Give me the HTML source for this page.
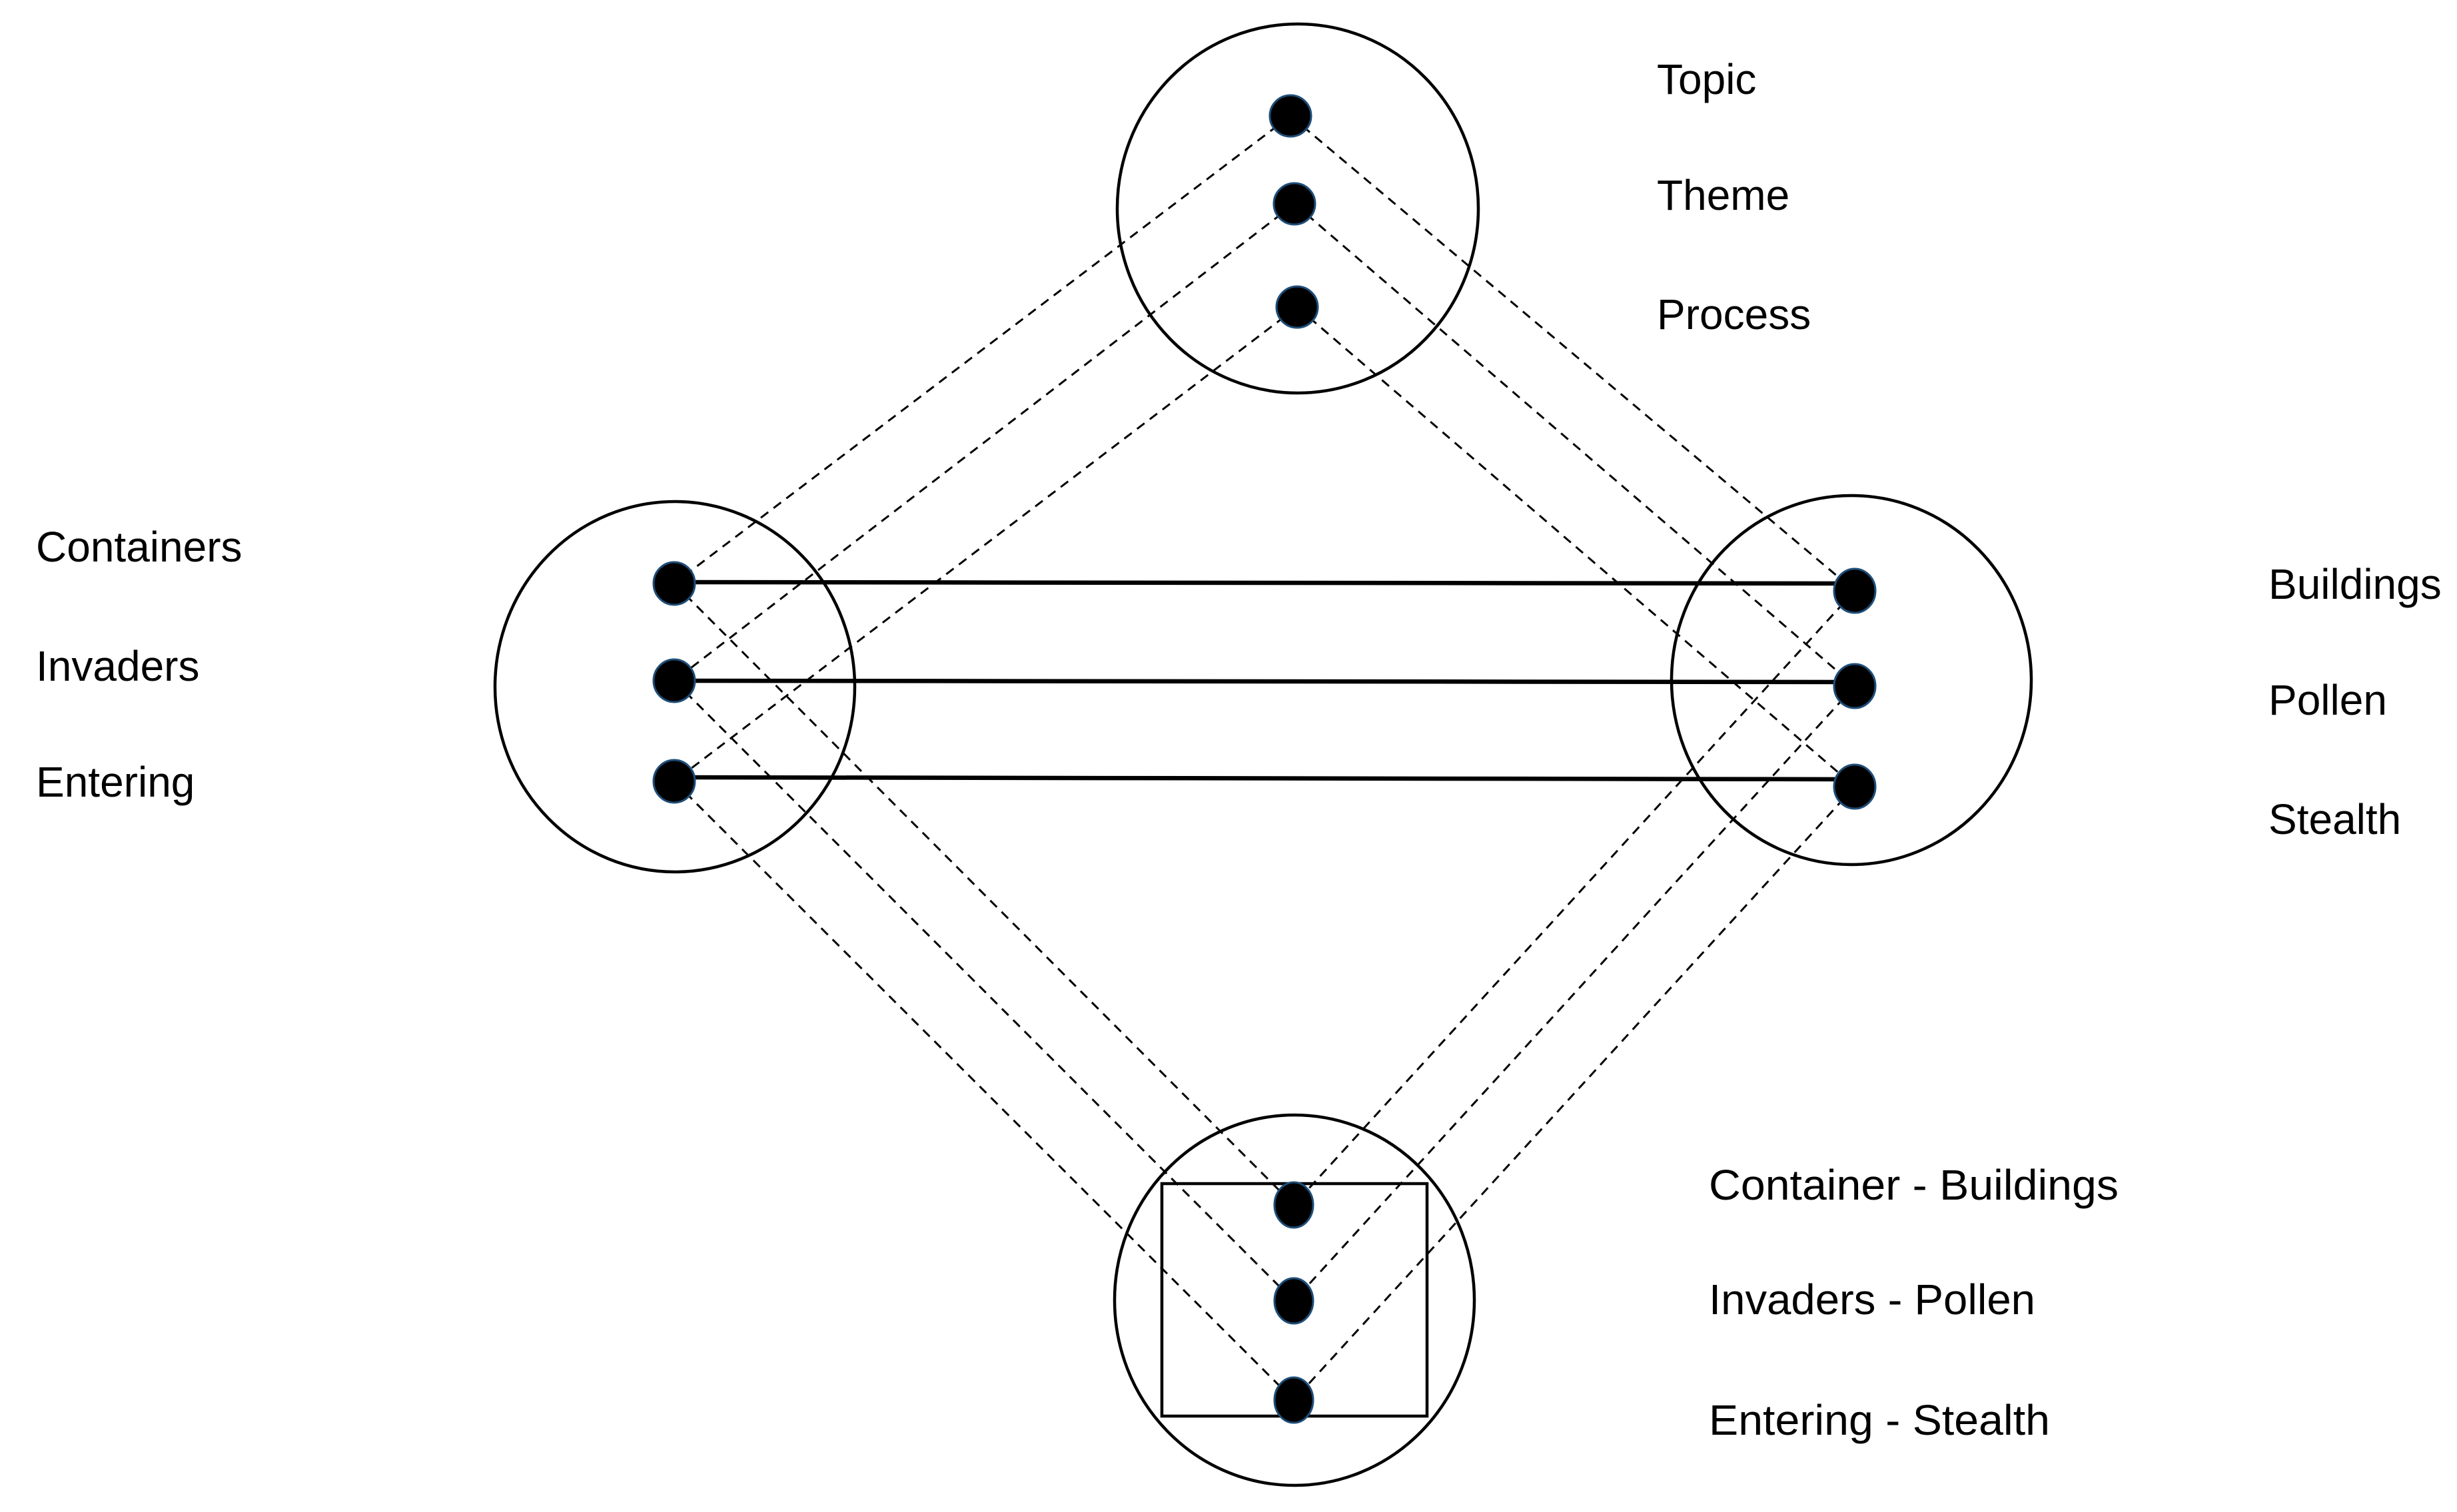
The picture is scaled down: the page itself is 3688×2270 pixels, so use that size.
<!DOCTYPE html>
<html><head><meta charset="utf-8"><style>
html,body{margin:0;padding:0;background:#fff;}
svg{display:block;}
text{font-family:"Liberation Sans",sans-serif;font-size:64px;fill:#000;}
</style></head><body>
<svg width="3688" height="2270" viewBox="0 0 3688 2270" xmlns="http://www.w3.org/2000/svg">
<g stroke="#000" stroke-width="3" stroke-dasharray="14 10" fill="none">
<line x1="1937" y1="174" x2="1012" y2="876"/>
<line x1="1943" y1="306" x2="1012" y2="1022"/>
<line x1="1947" y1="461" x2="1012" y2="1173"/>
<line x1="1937" y1="174" x2="2784" y2="887"/>
<line x1="1943" y1="306" x2="2784" y2="1030"/>
<line x1="1947" y1="461" x2="2784" y2="1181"/>
<line x1="1012" y1="876" x2="1942" y2="1809"/>
<line x1="1012" y1="1022" x2="1942" y2="1953"/>
<line x1="1012" y1="1173" x2="1942" y2="2102"/>
<line x1="2784" y1="887" x2="1942" y2="1809"/>
<line x1="2784" y1="1030" x2="1942" y2="1953"/>
<line x1="2784" y1="1181" x2="1942" y2="2102"/>
</g>
<g stroke="#000" stroke-width="4.5" fill="none">
<ellipse cx="1948" cy="313" rx="271" ry="277"/>
<ellipse cx="1013" cy="1031" rx="270" ry="278"/>
<ellipse cx="2779" cy="1021" rx="270" ry="277"/>
<ellipse cx="1943" cy="1952" rx="270" ry="278"/>
<rect x="1744" y="1777" width="398" height="349"/>
</g>
<g stroke="#000" stroke-width="6.5">
<line x1="1012" y1="874" x2="2784" y2="876"/>
<line x1="1012" y1="1022" x2="2784" y2="1024"/>
<line x1="1012" y1="1167" x2="2784" y2="1170"/>
</g>
<g fill="#000" stroke="#1f4e79" stroke-width="3">
<ellipse cx="1937" cy="174" rx="31" ry="31"/>
<ellipse cx="1943" cy="306" rx="31" ry="31"/>
<ellipse cx="1947" cy="461" rx="31" ry="31"/>
<ellipse cx="1012" cy="876" rx="31" ry="32"/>
<ellipse cx="1012" cy="1022" rx="31" ry="32"/>
<ellipse cx="1012" cy="1173" rx="31" ry="32"/>
<ellipse cx="2784" cy="887" rx="31" ry="33"/>
<ellipse cx="2784" cy="1030" rx="31" ry="33"/>
<ellipse cx="2784" cy="1181" rx="31" ry="33"/>
<ellipse cx="1942" cy="1809" rx="29" ry="34"/>
<ellipse cx="1942" cy="1953" rx="29" ry="34"/>
<ellipse cx="1942" cy="2102" rx="29" ry="34"/>
</g>
<text x="2487" y="141">Topic</text>
<text x="2487" y="315">Theme</text>
<text x="2487" y="494">Process</text>
<text x="54" y="843">Containers</text>
<text x="54" y="1022">Invaders</text>
<text x="54" y="1196">Entering</text>
<text x="3405" y="899">Buildings</text>
<text x="3405" y="1073">Pollen</text>
<text x="3405" y="1252">Stealth</text>
<text x="2565" y="1801" textLength="615" lengthAdjust="spacingAndGlyphs">Container - Buildings</text>
<text x="2565" y="1973" textLength="490" lengthAdjust="spacingAndGlyphs">Invaders - Pollen</text>
<text x="2565" y="2154" textLength="512" lengthAdjust="spacingAndGlyphs">Entering - Stealth</text>
</svg>
</body></html>
